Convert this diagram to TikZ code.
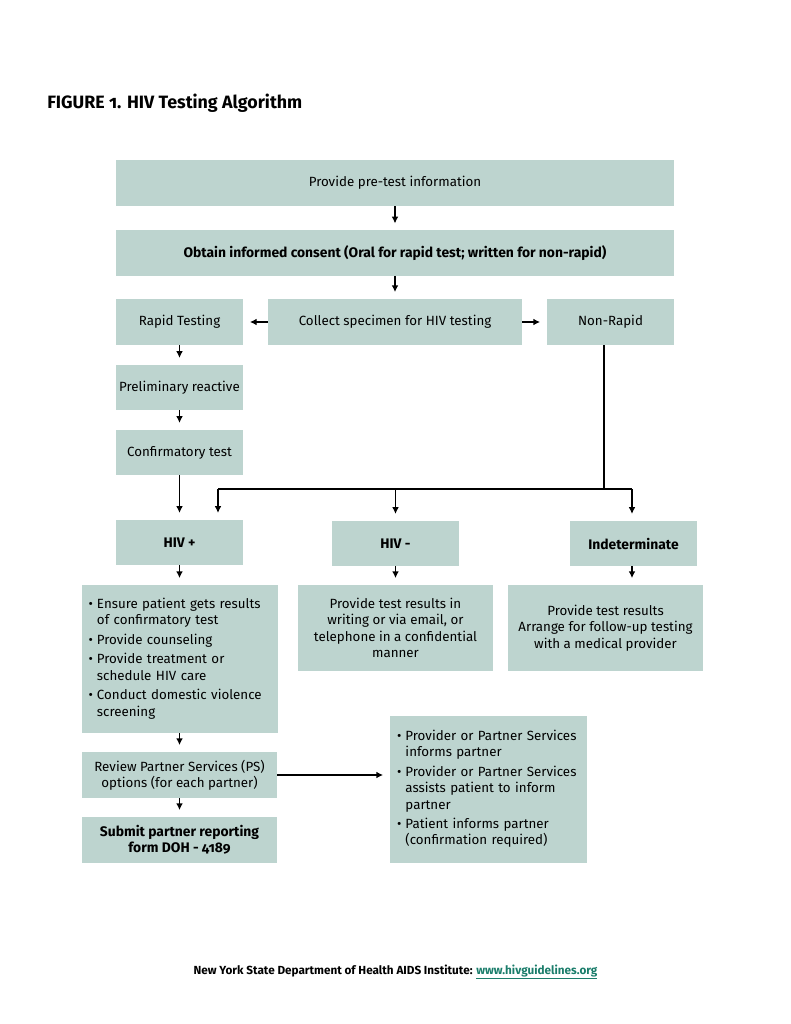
\documentclass[tikz,border=0pt]{standalone}
\usepackage{fontspec}
\setmainfont[Numbers=OldStyle]{Fira Sans}
\usetikzlibrary{arrows.meta}
\definecolor{boxc}{HTML}{BDD4CF}
\definecolor{linkc}{HTML}{1B7D6B}
\begin{document}
\begin{tikzpicture}[x=0.75pt,y=-0.75pt,
  bx/.style={fill=boxc, inner sep=0pt, align=center, font=\fontsize{10}{12.2}\selectfont},
  bxb/.style={bx, font=\fontsize{10.4}{12.2}\selectfont\bfseries},
  arr/.style={line width=0.9pt, -{Latex[length=5pt,width=5pt]}, shorten >=5pt},
  ln/.style={line width=0.9pt}]
\useasboundingbox (0,0) rectangle (791,1024);
\node[anchor=west, inner sep=0pt, font=\fontsize{13.4}{16}\selectfont\bfseries] (title) at (47,103) {FIGURE 1. HIV Testing Algorithm};

\node[bx, minimum width=418.5pt, minimum height=34.5pt] (pre) at (395,183) {Provide pre-test information};
\node[bxb, minimum width=418.5pt, minimum height=34pt] (cons) at (395,253) {Obtain informed consent (Oral for rapid test; written for non-rapid)};
\node[bx, minimum width=95.25pt, minimum height=34.5pt] (rapid) at (179.5,322) {Rapid Testing};
\node[bx, minimum width=190.5pt, minimum height=34.5pt] (coll) at (395,322) {Collect specimen for HIV testing};
\node[bx, minimum width=95.25pt, minimum height=34.5pt] (nonr) at (610.5,322) {Non-Rapid};
\node[bx, minimum width=95.25pt, minimum height=34pt] (prel) at (179.5,387.5) {Preliminary reactive};
\node[bx, minimum width=95.25pt, minimum height=34pt] (conf) at (179.5,452.5) {Confirmatory test};

\node[bxb, minimum width=95.25pt, minimum height=34pt] (hivp) at (179.5,542.5) {HIV +};
\node[bxb, minimum width=95.25pt, minimum height=34pt] (hivn) at (395.5,543.5) {HIV -};
\node[bxb, minimum width=95.25pt, minimum height=34pt] (ind) at (633.5,543.5) {Indeterminate};

\node[bx, align=left, minimum width=147pt, minimum height=111pt, text width=137pt] (pd) at (180,659) {%
\begin{tabular}{@{}l@{\hspace{3pt}}l@{}}
\textbullet & Ensure patient gets results\\
 & of confirmatory test\\[2.5pt]
\textbullet & Provide counseling\\[2.5pt]
\textbullet & Provide treatment or\\
 & schedule HIV care\\[2.5pt]
\textbullet & Conduct domestic violence\\
 & screening
\end{tabular}};
\node[bx, minimum width=146.25pt, minimum height=64.5pt] (nd) at (395.5,628) {Provide test results in\\writing or via email, or\\telephone in a confidential\\manner};
\node[bx, minimum width=146.25pt, minimum height=64.5pt] (id) at (605.5,628) {Provide test results\\Arrange for follow-up testing\\with a medical provider};

\node[bx, minimum width=146.25pt, minimum height=34.5pt] (rev) at (179.5,775) {Review Partner Services (PS)\\options (for each partner)};
\node[bxb, minimum width=146.25pt, minimum height=34.5pt] (sub) at (179.5,840) {Submit partner reporting\\form DOH - 4189};
\node[bx, align=left, minimum width=147.75pt, minimum height=110.25pt, text width=137pt] (part) at (488.5,789.5) {%
\begin{tabular}{@{}l@{\hspace{3pt}}l@{}}
\textbullet & Provider or Partner Services\\
 & informs partner\\[2.5pt]
\textbullet & Provider or Partner Services\\
 & assists patient to inform\\
 & partner\\[2.5pt]
\textbullet & Patient informs partner\\
 & (confirmation required)
\end{tabular}};

\node[font=\fontsize{8.8}{10}\selectfont\bfseries] (foot) at (395.5,972) {New York State Department of Health AIDS Institute: \textcolor{linkc}{\underline{www.hivguidelines.org}}};

\draw[arr] (pre) -- (cons);
\draw[arr] (cons) -- (coll);
\draw[arr] (coll) -- (rapid);
\draw[arr] (coll) -- (nonr);
\draw[arr] (rapid) -- (prel);
\draw[arr] (prel) -- (conf);
\draw[arr] (conf) -- (hivp);
\coordinate (jr) at (604,489);
\coordinate (jl) at (218,489);
\coordinate (je) at (632,489);
\draw[ln] (nonr.south -| jr) -- (jr);
\draw[ln] (jl) -- (je);
\draw[arr] (jl) -- (jl |- hivp.north);
\draw[arr] (hivn.north |- jl) -- (hivn.north);
\draw[arr] (je) -- (je |- ind.north);
\draw[arr] (hivp) -- (hivp |- pd.north);
\draw[arr] (hivn) -- (hivn |- nd.north);
\draw[arr] (ind.south -| je) -- (je |- id.north);
\draw[arr] (pd.south -| rev) -- (rev);
\draw[arr] (rev) -- (sub);
\draw[arr] (rev.east) -- (rev.east -| part.west);
\end{tikzpicture}
\end{document}
